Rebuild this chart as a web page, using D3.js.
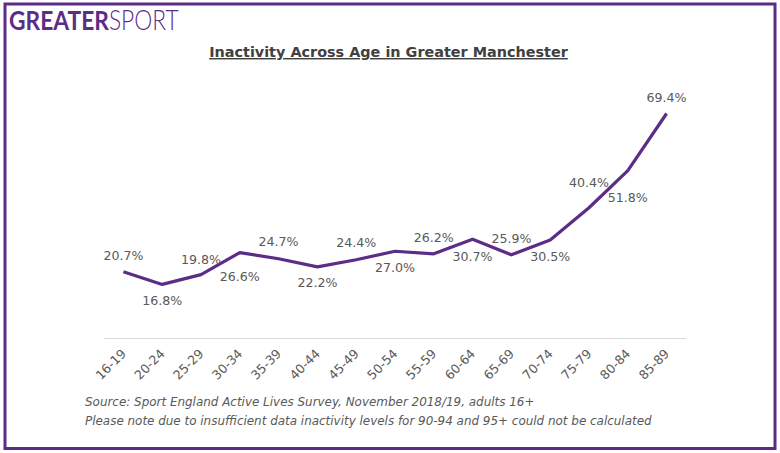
<!DOCTYPE html>
<html>
<head>
<meta charset="utf-8">
<script src="https://cdn.jsdelivr.net/npm/d3@7"></script>
<style>
  html, body { margin: 0; padding: 0; background: #fff; }
  svg { display: block; }
</style>
</head>
<body>
<div id="chart"></div>
<script>
const ageGroups = ["16-19", "20-24", "25-29", "30-34", "35-39", "40-44", "45-49", "50-54", "55-59", "60-64", "65-69", "70-74", "75-79", "80-84", "85-89"];
const inactivity = [20.7, 16.8, 19.8, 26.6, 24.7, 22.2, 24.4, 27.0, 26.2, 30.7, 25.9, 30.5, 40.4, 51.8, 69.4];
const titleText = "Inactivity Across Age in Greater Manchester";
const sourceLines = [
  "Source: Sport England Active Lives Survey, November 2018/19, adults 16+",
  "Please note due to insufficient data inactivity levels for 90-94 and 95+ could not be calculated"
];

const width = 780;
const height = 453;
const purple = "#5c2d87";
const grey = "#595959";
const font = "'DejaVu Sans', Verdana, sans-serif";

// label nudges off the line, by age group (placed by hand in the original)
const labelDy = [-15, 17.5, -14, 24.5, -16, 16.5, -16, 17.5, -15, 18.5, -15, 17.5, -24, 27.5, -15];

const x = d3.scaleBand().domain(ageGroups).range([104, 686]);
const y = d3.scaleLinear().domain([0, 69.4]).range([339, 113.5]);

const svg = d3.select("#chart").append("svg")
    .attr("width", width)
    .attr("height", height)
    .attr("viewBox", [0, 0, width, height])
    .style("font-family", font);

svg.append("rect")
    .attr("x", 5)
    .attr("y", 4)
    .attr("width", 770)
    .attr("height", 444.5)
    .attr("fill", "#fff")
    .attr("stroke", purple)
    .attr("stroke-width", 3);

// logo, squeezed to the width of the original wordmark
const logo = svg.append("text")
    .attr("transform", "translate(9,29.5) scale(0.86,1)")
    .attr("fill", purple)
    .style("font-family", "Lato, sans-serif")
    .style("font-size", "26.5px");
logo.append("tspan").attr("font-weight", 700).text("GREATER");
logo.append("tspan").attr("font-weight", 300).text("SPORT");

svg.append("text")
    .attr("x", 388.5)
    .attr("y", 57)
    .attr("text-anchor", "middle")
    .attr("font-weight", 700)
    .attr("text-decoration", "underline")
    .attr("fill", "#404040")
    .style("font-size", "14.4px")
    .text(titleText);

// x axis
const xAxis = svg.append("g")
    .attr("transform", "translate(0,338)")
    .call(d3.axisBottom(x).tickSize(0).tickPadding(0));
xAxis.select(".domain").attr("stroke", "#d9d9d9");
xAxis.selectAll("text")
    .attr("fill", grey)
    .style("font-family", font)
    .style("font-size", "12.6px")
    .attr("text-anchor", "middle")
    .attr("dy", null)
    .attr("y", 0)
    .attr("transform", "translate(-12,27) rotate(-45)")
    .attr("dominant-baseline", "middle");

const line = d3.line()
    .x((d, i) => x(ageGroups[i]) + x.bandwidth() / 2)
    .y(d => y(d));

svg.append("path")
    .datum(inactivity)
    .attr("fill", "none")
    .attr("stroke", purple)
    .attr("stroke-width", 3.2)
    .attr("stroke-linejoin", "round")
    .attr("d", line);

svg.append("g")
  .selectAll("text")
  .data(inactivity)
  .join("text")
    .attr("x", (d, i) => x(ageGroups[i]) + x.bandwidth() / 2)
    .attr("y", (d, i) => y(d) + labelDy[i])
    .attr("text-anchor", "middle")
    .attr("dominant-baseline", "middle")
    .attr("fill", grey)
    .style("font-size", "12.6px")
    .text(d => d.toFixed(1) + "%");

svg.append("g")
  .selectAll("text")
  .data(sourceLines)
  .join("text")
    .attr("x", 85)
    .attr("y", (d, i) => 406 + i * 18.5)
    .attr("font-style", "italic")
    .attr("fill", grey)
    .style("font-size", "11.95px")
    .text(d => d);
</script>
</body>
</html>
